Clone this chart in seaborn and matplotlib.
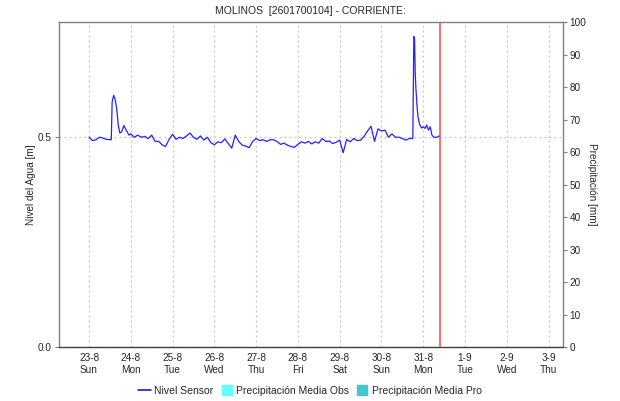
import numpy as np
import pandas as pd
import seaborn as sns
import matplotlib.pyplot as plt
from matplotlib.lines import Line2D

# horas desde 23-8 00:00 y nivel [m]
horas = [0, 2, 4, 6, 8, 10, 12, 12.8, 13.3, 14.2, 15.0, 15.9, 16.8, 17.7, 18.8, 20.0, 21.6, 23.0,
         24, 26, 28, 30, 32, 34, 36, 38, 40, 42, 44, 46,
         48, 50, 52, 54, 56, 58, 60, 62, 64, 66, 68, 70,
         72, 74, 76, 78, 80, 82, 84, 86, 88, 90, 92, 94,
         96, 98, 100, 102, 104, 106, 108, 110, 112, 114, 116, 118,
         120, 122, 124, 126, 128, 130, 132, 134, 136, 138, 140, 142,
         144, 146, 148, 150, 152, 154, 156, 158, 160, 162, 164, 166,
         168, 170, 172, 174, 176, 178, 180, 182, 184,
         186, 186.3, 186.6, 187.0, 187.4, 187.8, 188.5, 189, 190, 191,
         192, 193, 194, 195, 196, 197, 198, 200, 201, 201.5]
nivel = [0.500, 0.492, 0.494, 0.500, 0.498, 0.495, 0.494, 0.494, 0.585, 0.600, 0.590, 0.569, 0.529, 0.510, 0.513, 0.528, 0.515, 0.505,
         0.508, 0.500, 0.505, 0.500, 0.502, 0.497, 0.505, 0.490, 0.490, 0.482, 0.478, 0.495,
         0.507, 0.495, 0.500, 0.497, 0.503, 0.510, 0.500, 0.495, 0.503, 0.493, 0.500, 0.487,
         0.482, 0.489, 0.487, 0.496, 0.485, 0.474, 0.505, 0.490, 0.481, 0.479, 0.475, 0.490,
         0.497, 0.492, 0.494, 0.490, 0.494, 0.494, 0.490, 0.483, 0.486, 0.481, 0.478, 0.476,
         0.483, 0.489, 0.486, 0.490, 0.484, 0.489, 0.486, 0.497, 0.490, 0.491, 0.485, 0.488,
         0.493, 0.463, 0.495, 0.489, 0.497, 0.492, 0.493, 0.502, 0.515, 0.526, 0.490, 0.520,
         0.515, 0.517, 0.500, 0.508, 0.500, 0.500, 0.497, 0.493, 0.497,
         0.497, 0.620, 0.740, 0.735, 0.650, 0.615, 0.570, 0.548, 0.530, 0.522,
         0.525, 0.521, 0.529, 0.517, 0.525, 0.505, 0.500, 0.500, 0.503, 0.502]

fechas = ['23-8', '24-8', '25-8', '26-8', '27-8', '28-8', '29-8', '30-8', '31-8', '1-9', '2-9', '3-9']
dias = ['Sun', 'Mon', 'Tue', 'Wed', 'Thu', 'Fri', 'Sat', 'Sun', 'Mon', 'Tue', 'Wed', 'Thu']

inicio = pd.Timestamp('2020-08-23')
ahora = inicio + pd.Timedelta(hours=201.5)

sns.set_style("white")
plt.rcParams['font.family'] = ['Liberation Sans', 'DejaVu Sans']

fig = plt.figure(figsize=(6.2, 4.01), dpi=100)
ax = fig.add_axes([0.0947, 0.1347, 0.8126, 0.8097])

df = pd.DataFrame({'fecha': inicio + pd.to_timedelta(horas, unit='h'), 'nivel': nivel})
sns.lineplot(data=df, x='fecha', y='nivel', ax=ax, color='#2222ff', linewidth=0.9)

ax.axvline(ahora, color='#ff4444', linewidth=1.1, zorder=5)

ax.set_xlim(inicio - pd.Timedelta(hours=17.4), inicio + pd.Timedelta(hours=272))
ax.set_ylim(0, 0.774)
ax.set_yticks([0, 0.5])
ax.set_yticklabels(['0.0', '0.5'])
ticks = pd.date_range(inicio, periods=len(fechas), freq='D')
ax.set_xticks(ticks)
ax.set_xticklabels([f'{f}\n{d}' for f, d in zip(fechas, dias)], fontsize=7.2, linespacing=1.35)
ax.tick_params(axis='x', length=0, pad=4)
ax.tick_params(axis='y', length=3, width=0.8, color='#808080', labelsize=7.2, pad=2, left=True)
ax.grid(True, linestyle=(0, (1.5, 2.5)), color='#c4c4c4', linewidth=0.9)
ax.set_xlabel('')
ax.set_ylabel('Nivel del Agua [m]', fontsize=7.2, labelpad=1)
for s in ['left', 'top', 'right']:
    ax.spines[s].set_color('#808080')
    ax.spines[s].set_linewidth(1.0)
ax.spines['bottom'].set_linestyle((0, (1, 1)))
ax.spines['bottom'].set_color('#404040')
ax.spines['bottom'].set_linewidth(1.0)

ax2 = ax.twinx()
ax2.set_ylim(0, 100)
ax2.set_yticks(range(0, 101, 10))
ax2.tick_params(axis='y', length=3, width=0.8, color='#808080', labelsize=7.2, pad=2, right=True)
ax2.set_ylabel('Precipitación [mm]', fontsize=7.2, rotation=270, labelpad=7.5)
for s in ax2.spines.values():
    s.set_visible(False)

ax.set_title('MOLINOS  [2601700104] - CORRIENTE:', fontsize=7.5, pad=6)

handles = [Line2D([], [], color='#0000ff', linewidth=1.1),
           Line2D([], [], marker='s', linestyle='none', markersize=7, color='#66ffff'),
           Line2D([], [], marker='s', linestyle='none', markersize=7, color='#44c8c8')]
fig.legend(handles, ['Nivel Sensor', 'Precipitación Media Obs', 'Precipitación Media Pro'],
           loc='center', bbox_to_anchor=(0.5, 0.026), ncol=3, frameon=False, fontsize=7.5,
           handlelength=1.3, handletextpad=0.3, columnspacing=0.6)

fig.savefig('out.png', dpi=100)
